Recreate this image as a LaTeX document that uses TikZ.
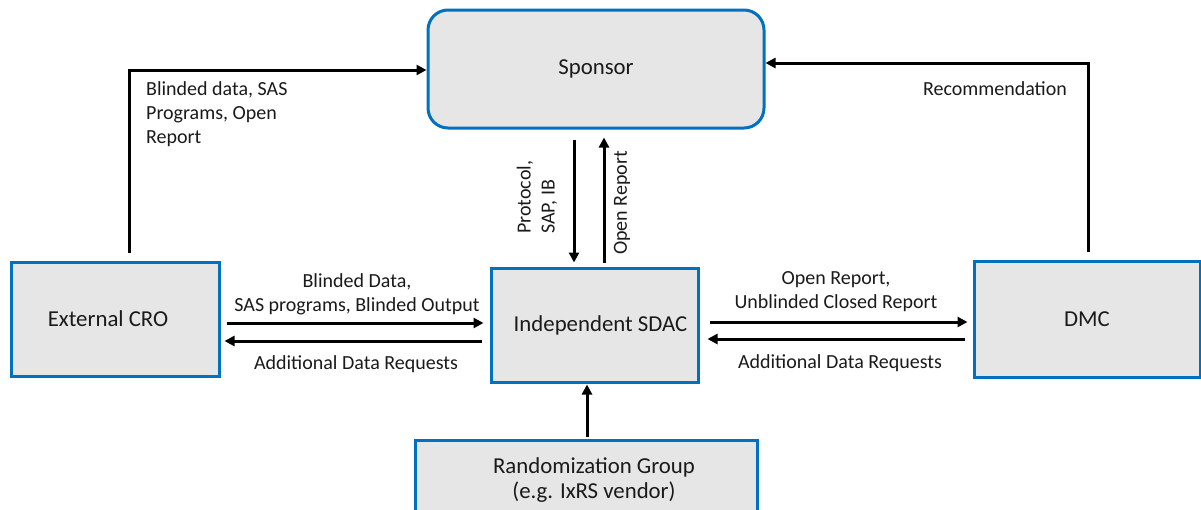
\documentclass[tikz,border=0pt]{standalone}
\usepackage{fontspec}
\setmainfont{Carlito}
\usetikzlibrary{arrows.meta,calc}
\definecolor{boxblue}{HTML}{0070C0}
\definecolor{boxgray}{HTML}{E6E6E6}
\definecolor{txt}{HTML}{1A1A1A}
\begin{document}
\begin{tikzpicture}[x=1pt,y=-1pt,
  every node/.style={font=\fontsize{20}{24}\selectfont, text=txt},
  box/.style={draw=boxblue, line width=3pt, fill=boxgray, inner sep=0pt, font=\fontsize{22.8}{25}\selectfont},
  lbl/.style={inner sep=0pt},
  arr/.style={line width=3pt, -{Triangle[length=10pt,width=10pt]}}]
\useasboundingbox (0,0) rectangle (1201,509);
% boxes
\node[box, rounded corners=20pt, minimum width=336pt, minimum height=118pt] (sponsor) at (596,69) {Sponsor};
\node[box, minimum width=208pt, minimum height=114pt] (cro) at (115,319) {External CRO\hspace*{14pt}};
\node[box, minimum width=207pt, minimum height=114pt] (sdac) at (594.5,325) {\hspace*{12pt}Independent SDAC};
\node[box, minimum width=226pt, minimum height=116pt] (dmc) at (1087,319) {DMC};
\node[box, minimum width=342pt, minimum height=80pt, align=center] (rand) at (586,480) {\hspace*{16pt}Randomization Group\\\hspace*{16pt}(e.g. IxRS vendor)};
% connectors
\draw[arr] ([xshift=14pt,yshift=8pt]cro.north) |- ([yshift=-1pt]sponsor.west);
\draw[arr] ([xshift=1pt,yshift=8pt]dmc.north) |- ([yshift=6pt]sponsor.east);
\coordinate (pd) at ([xshift=-22pt,yshift=-10pt]sponsor.south);
\coordinate (pu) at ([xshift=8pt,yshift=-8pt]sponsor.south);
\draw[arr, shorten >=4pt] (pd) -- (pd |- sdac.north);
\draw[arr, shorten <=4pt] (pu |- sdac.north) -- (pu);
\draw[arr, shorten <=6pt, shorten >=6pt] ([yshift=-4pt]cro.east) -- ([yshift=-4pt]cro.east -| sdac.west);
\draw[arr, shorten <=8pt, shorten >=4pt] ([yshift=-22pt]cro.east -| sdac.west) -- ([yshift=-22pt]cro.east);
\draw[arr, shorten <=10pt, shorten >=5pt] ([yshift=-3pt]dmc.west -| sdac.east) -- ([yshift=-3pt]dmc.west);
\draw[arr, shorten <=8pt, shorten >=8pt] ([yshift=-20pt]dmc.west) -- ([yshift=-20pt]dmc.west -| sdac.east);
\draw[arr, shorten <=2pt, shorten >=1pt] ([xshift=1pt]rand.north) -- ([xshift=1pt]rand.north |- sdac.south);
% labels
\node[lbl, anchor=west, align=left] (l1) at (146,114) {Blinded data, SAS\\Programs, Open\\Report};
\node[lbl] (l2) at (995,89) {Recommendation};
\node[lbl, rotate=90, anchor=west, align=left] (l3) at (537,234) {Protocol,\\SAP, IB};
\node[lbl, rotate=90] (l4) at (622,203) {Open Report};
\node[lbl, align=center] (l5) at (357,294) {Blinded Data,\\SAS programs, Blinded Output};
\node[lbl] (l6) at (356,364) {Additional Data Requests};
\node[lbl, align=center] (l7) at (836,292) {Open Report,\\Unblinded Closed Report};
\node[lbl] (l8) at (840,363) {Additional Data Requests};
\end{tikzpicture}
\end{document}
